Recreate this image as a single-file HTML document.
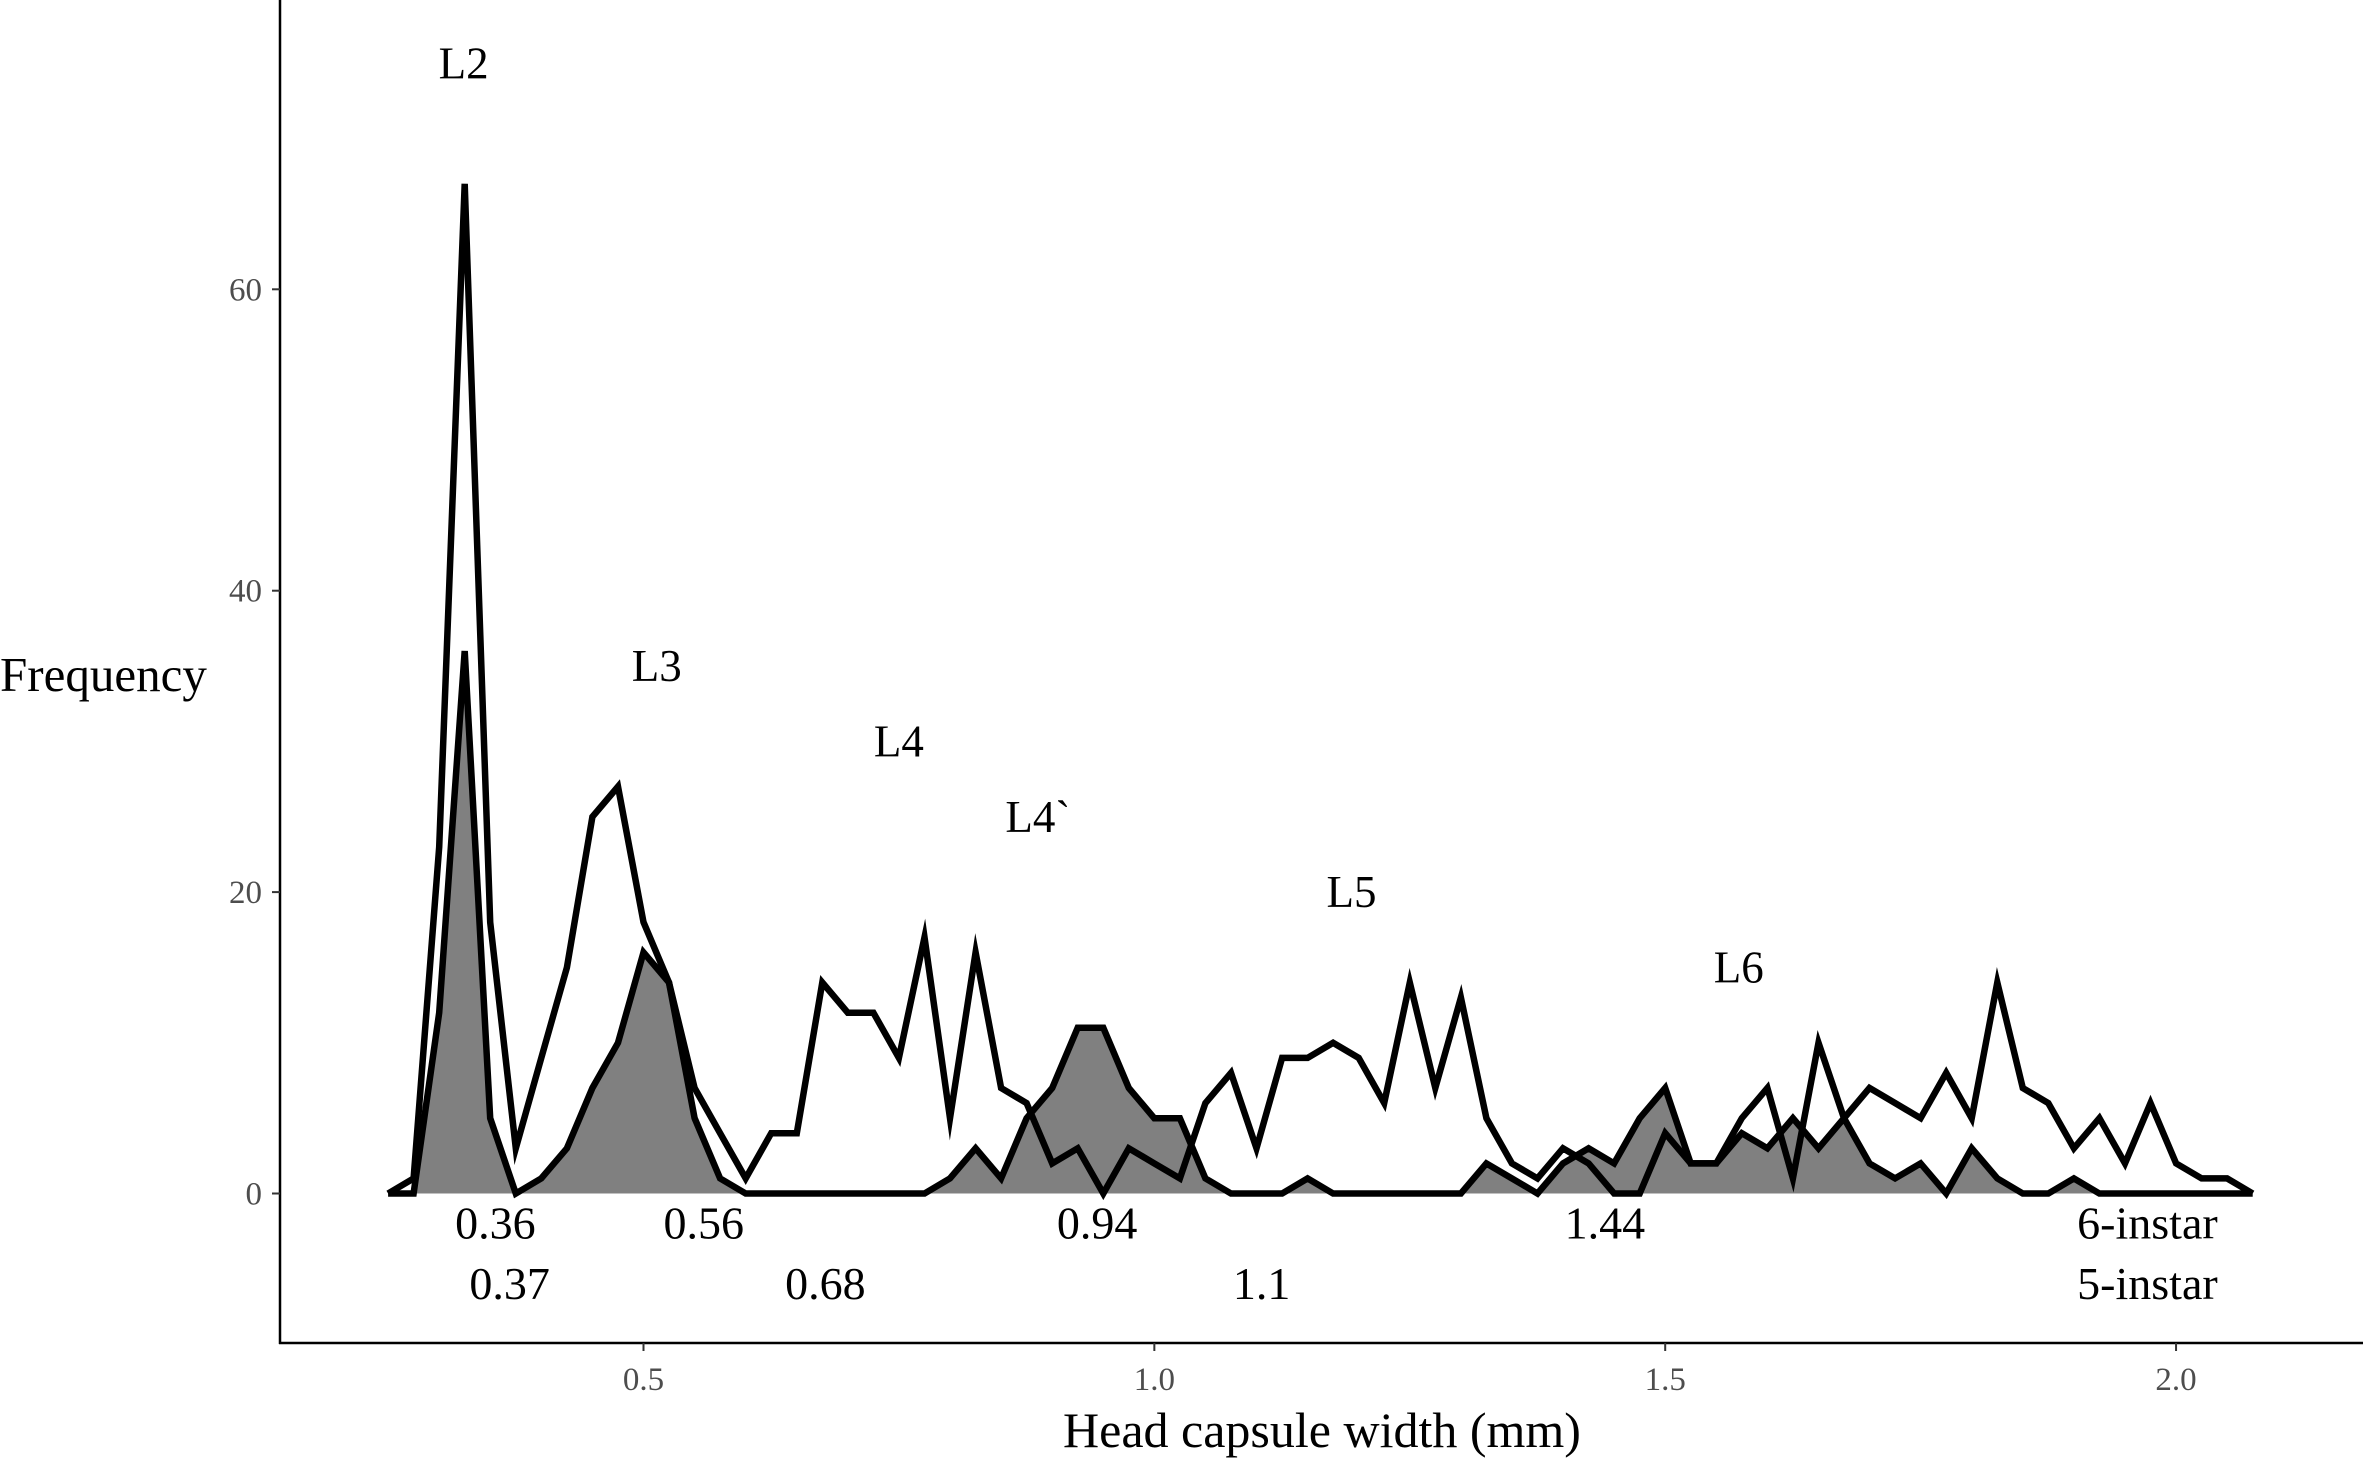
<!DOCTYPE html>
<html><head><meta charset="utf-8"><style>
html,body{margin:0;padding:0;background:#fff;}
svg{display:block;font-family:"Liberation Serif",serif;}
</style></head><body>
<svg id="chart" width="2363" height="1460" viewBox="0 0 2363 1460" xmlns="http://www.w3.org/2000/svg">
<g id="marks"></g>
<g id="axes"></g>
<g id="ann"></g>
</svg>
<script>
const binStart = 0.25;
const binStep = 0.025;
const sixInstar = [0,1,23,67,18,3,9,15,25,27,18,14,7,4,1,4,4,14,12,12,9,17,5,16,7,6,2,3,0,3,2,1,6,8,3,9,9,10,9,6,14,7,13,5,2,1,3,2,0,0,4,2,2,5,7,1,10,5,7,6,5,8,5,14,7,6,3,5,2,6,2,1,1,0];
const fiveInstar = [0,0,12,36,5,0,1,3,7,10,16,14,5,1,0,0,0,0,0,0,0,0,1,3,1,5,7,11,11,7,5,5,1,0,0,0,1,0,0,0,0,0,0,2,1,0,2,3,2,5,7,2,2,4,3,5,3,5,2,1,2,0,3,1,0,0,1,0,0,0,0,0,0,0];
const xTicks = [0.5,1.0,1.5,2.0];
const xTickLabels = ["0.5","1.0","1.5","2.0"];
const yTicks = [0,20,40,60];
const yTickLabels = ["0","20","40","60"];
const instarLabels = ["L2","L3","L4","L4`","L5","L6"];
const instarLabelX = [0.324,0.513,0.75,0.886,1.193,1.572];
const instarLabelY = [75,35,30,25,20,15];
const meanLabels6 = ["0.36","0.56","0.94","1.44","6-instar"];
const meanX6 = [0.355,0.559,0.944,1.441,1.972];
const meanLabels5 = ["0.37","0.68","1.1","5-instar"];
const meanX5 = [0.369,0.678,1.105,1.972];

const NS="http://www.w3.org/2000/svg";
const X = v => 643.5 + (v-0.5)*1021.7;
const Y = f => 1193.5 - 15.07*f;
function mk(tag, attrs, parent){const e=document.createElementNS(NS,tag);for(const k in attrs)e.setAttribute(k,attrs[k]);parent.appendChild(e);return e;}
const marks=document.getElementById('marks'), axes=document.getElementById('axes'), ann=document.getElementById('ann');

function pts(arr){return arr.map((f,i)=>X(binStart+i*binStep).toFixed(1)+","+Y(f).toFixed(1));}
const p5=pts(fiveInstar);
const area=mk('polygon',{points:p5.join(' ')+" "+X(binStart+(fiveInstar.length-1)*binStep).toFixed(1)+","+Y(0)+" "+X(binStart)+","+Y(0),fill:'#808080',stroke:'none'},marks);


const l5=mk('polyline',{points:p5.join(' '),fill:'none',stroke:'#000','stroke-width':6.5,'stroke-linejoin':'miter','stroke-miterlimit':10},marks);


const l6=mk('polyline',{points:pts(sixInstar).join(' '),fill:'none',stroke:'#000','stroke-width':6.5,'stroke-linejoin':'miter','stroke-miterlimit':10},marks);



const ya=mk('line',{x1:280,y1:0,x2:280,y2:1344,stroke:'#000','stroke-width':2.5},axes);


const xa=mk('line',{x1:279,y1:1343,x2:2363,y2:1343,stroke:'#000','stroke-width':2.5},axes);


yTicks.forEach((t,i)=>{
  const tk=mk('line',{x1:272,y1:Y(t),x2:280,y2:Y(t),stroke:'#333','stroke-width':2},axes);
  
  
  const tl=mk('text',{x:262,y:Y(t)+11,'text-anchor':'end','font-size':33,fill:'#4d4d4d'},axes);
  tl.textContent=yTickLabels[i];
  
  
});
xTicks.forEach((t,i)=>{
  const tk=mk('line',{x1:X(t),y1:1343,x2:X(t),y2:1351,stroke:'#333','stroke-width':2},axes);
  
  
  const tl=mk('text',{x:X(t),y:1390,'text-anchor':'middle','font-size':33,fill:'#4d4d4d'},axes);
  tl.textContent=xTickLabels[i];
  
  
});
const xt=mk('text',{x:1322,y:1447,'text-anchor':'middle','font-size':50,fill:'#000'},axes);
xt.textContent='Head capsule width (mm)';


const yt=mk('text',{x:0,y:691,'text-anchor':'start','font-size':49,fill:'#000'},axes);
yt.textContent='Frequency';



instarLabels.forEach((s,i)=>{
  const t=mk('text',{x:X(instarLabelX[i]),y:Y(instarLabelY[i])+15,'text-anchor':'middle','font-size':45,fill:'#000'},ann);
  t.textContent=s;
  
  
});
meanLabels6.forEach((s,i)=>{
  const t=mk('text',{x:X(meanX6[i]),y:Y(-2)+15,'text-anchor':'middle','font-size':46,fill:'#000'},ann);
  t.textContent=s;
  
  
});
meanLabels5.forEach((s,i)=>{
  const t=mk('text',{x:X(meanX5[i]),y:Y(-6)+15,'text-anchor':'middle','font-size':46,fill:'#000'},ann);
  t.textContent=s;
  
  
});
</script>
</body></html>
